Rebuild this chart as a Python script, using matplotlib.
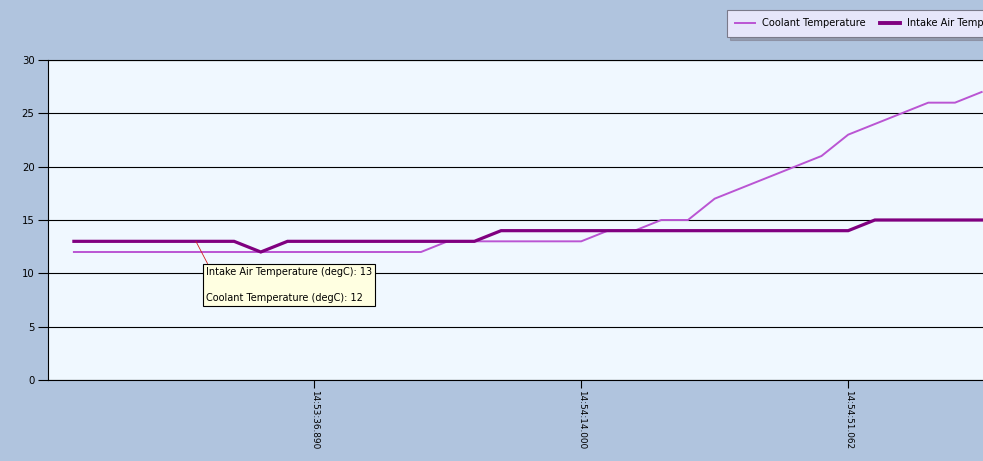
import matplotlib
matplotlib.use("Agg")
import matplotlib.pyplot as plt
from matplotlib.lines import Line2D

# ---- data ----
sample_index = list(range(35))
coolant_temp = [12, 12, 12, 12, 12, 12, 12, 12, 12, 12, 12, 12, 12, 12,
                13, 13, 13, 13, 13, 13, 14, 14, 15, 15, 17, 18, 19, 20,
                21, 23, 24, 25, 26, 26, 27]
intake_temp = [13, 13, 13, 13, 13, 13, 13, 12, 13, 13, 13, 13, 13, 13,
               13, 13, 14, 14, 14, 14, 14, 14, 14, 14, 14, 14, 14, 14,
               14, 14, 15, 15, 15, 15, 15]
tick_positions = [9, 19, 29]
tick_labels = ["14:53:36.890", "14:54:14.000", "14:54:51.062"]
y_ticks = [0, 5, 10, 15, 20, 25, 30]
series_names = ["Coolant Temperature", "Intake Air Temperature"]
tooltip_lines = ["Intake Air Temperature (degC): 13", "Coolant Temperature (degC): 12"]

W, H = 983, 461
fig = plt.figure(figsize=(W / 100, H / 100), dpi=100)
fig.patch.set_facecolor("#B0C4DE")

ax = fig.add_axes([48 / W, (H - 380) / H, (W - 48) / W, 320 / H])
ax.set_facecolor("#F0F8FF")

coolant_color = "#BA55D3"
intake_color = "#800080"

ax.plot(sample_index, coolant_temp, color=coolant_color, lw=1.4, zorder=3,
        solid_joinstyle="miter")
ax.plot(sample_index, intake_temp, color=intake_color, lw=2.3, zorder=4,
        solid_joinstyle="miter")

ax.set_xlim(-0.97, 34.05)
ax.set_ylim(0, 30)
ax.set_yticks(y_ticks)
ax.set_yticklabels([str(v) for v in y_ticks], fontsize=7.3, family="DejaVu Sans")
ax.set_xticks(tick_positions)
ax.set_xticklabels(tick_labels, rotation=270, fontsize=6.4, family="DejaVu Sans",
                   ha="center", va="top")
ax.tick_params(axis="y", direction="out", length=7.2, width=0.8, pad=2.5, colors="black")
ax.tick_params(axis="x", direction="out", length=5.8, width=0.8, pad=1.5, colors="black")
ax.yaxis.grid(True, color="black", lw=0.8)
ax.set_axisbelow(True)
ax.spines["right"].set_visible(False)
for side in ["left", "bottom", "top"]:
    ax.spines[side].set_color("black")
    ax.spines[side].set_linewidth(0.8)

# left spine extends slightly below zero
ax.add_line(Line2D([48 / W, 48 / W], [(H - 380) / H, (H - 387) / H],
                   transform=fig.transFigure, color="black", lw=0.8))

# tooltip
ax.annotate("\n\n".join(tooltip_lines), xy=(4.57, 13), xycoords="data",
            xytext=(206, H - 267), textcoords="figure pixels",
            ha="left", va="top", fontsize=7.0, family="DejaVu Sans",
            linespacing=1.38,
            bbox=dict(boxstyle="square,pad=0.3", facecolor="#FFFFE1",
                      edgecolor="black", lw=0.8),
            arrowprops=dict(arrowstyle="-", color="#D02020", lw=0.6,
                            relpos=(0.02, 1.0), shrinkA=0, shrinkB=0),
            zorder=10)

# legend
handles = [Line2D([], [], color=coolant_color, lw=1.4),
           Line2D([], [], color=intake_color, lw=2.8)]
leg = fig.legend(handles, series_names, loc="upper left",
                 bbox_to_anchor=(727 / W, 1 - 10 / H), ncol=2,
                 prop={"family": "DejaVu Sans", "size": 7.1},
                 frameon=True, fancybox=False, shadow={"color": "#808090", "alpha": 0.6},
                 handlelength=2.0, handletextpad=0.75, columnspacing=1.4,
                 borderpad=0.85, borderaxespad=0)
leg.get_frame().set_facecolor("#E6E6FA")
leg.get_frame().set_edgecolor("#7A7A8A")
leg.get_frame().set_linewidth(0.8)

fig.savefig("out.png", dpi=100, facecolor=fig.get_facecolor())
